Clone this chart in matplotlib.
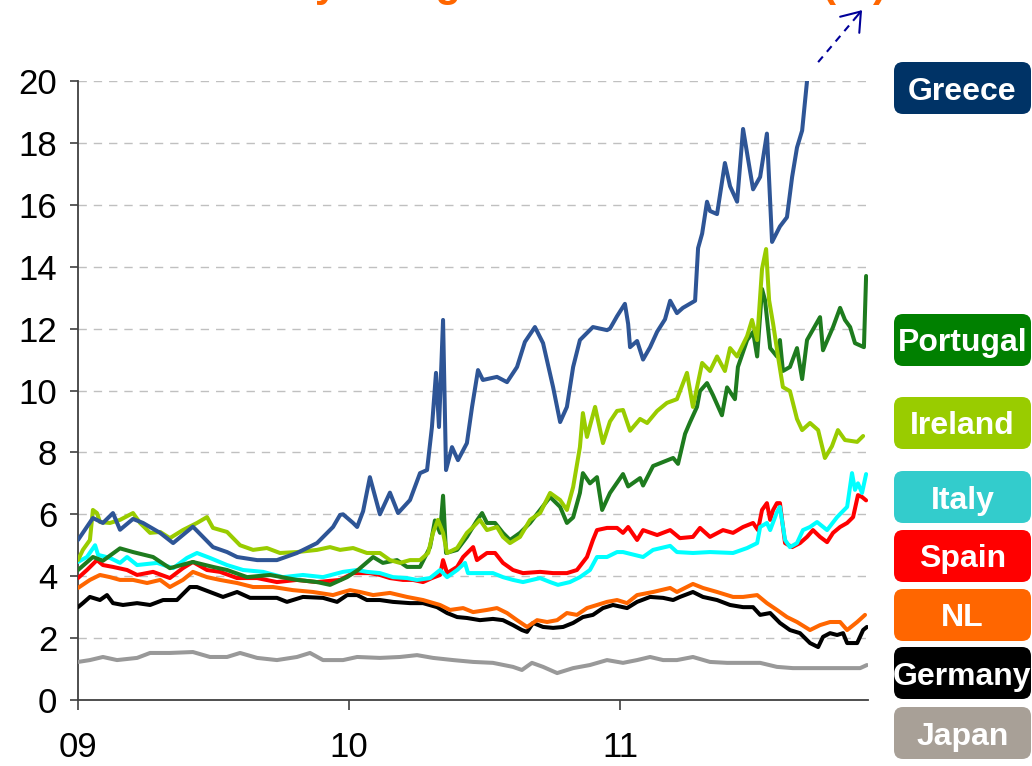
import matplotlib
matplotlib.use("Agg")
import matplotlib.pyplot as plt
import matplotlib.transforms as mtransforms
from matplotlib.patches import FancyBboxPatch

plt.rcParams['font.family'] = ['Liberation Sans', 'DejaVu Sans']

# ---------------- data (decimal years, % yield) ----------------
greece_t = [2009.000, 2009.055, 2009.092, 2009.129, 2009.155, 2009.203, 2009.240, 2009.303, 2009.351,
            2009.424, 2009.461, 2009.498, 2009.550, 2009.587, 2009.661, 2009.734, 2009.808, 2009.882,
            2009.941, 2009.967, 2009.978, 2010.015, 2010.030, 2010.052, 2010.077, 2010.114, 2010.151,
            2010.181, 2010.225, 2010.262, 2010.288, 2010.306, 2010.321, 2010.332, 2010.347, 2010.358,
            2010.380, 2010.402, 2010.435, 2010.454, 2010.476, 2010.494, 2010.546, 2010.583, 2010.620,
            2010.649, 2010.686, 2010.716, 2010.753, 2010.779, 2010.804, 2010.827, 2010.852, 2010.900,
            2010.952, 2010.963, 2010.989, 2011.018, 2011.030, 2011.037, 2011.063, 2011.085, 2011.111,
            2011.137, 2011.166, 2011.185, 2011.210, 2011.232, 2011.277, 2011.288, 2011.303, 2011.321,
            2011.332, 2011.358, 2011.387, 2011.406, 2011.432, 2011.454, 2011.472, 2011.491, 2011.517,
            2011.542, 2011.561, 2011.590, 2011.616, 2011.635, 2011.653, 2011.672, 2011.690, 2011.750,
            2011.908]
greece_v = [5.17, 5.88, 5.72, 6.04, 5.50, 5.85, 5.72, 5.40, 5.07,
            5.60, 5.27, 4.94, 4.78, 4.62, 4.52, 4.52, 4.75, 5.07,
            5.59, 5.98, 6.00, 5.72, 5.59, 6.10, 7.20, 6.00, 6.70,
            6.04, 6.46, 7.33, 7.43, 8.82, 10.57, 8.82, 12.28, 7.43,
            8.17, 7.75, 8.30, 9.47, 10.66, 10.34, 10.44, 10.27, 10.76,
            11.57, 12.05, 11.53, 10.11, 8.98, 9.47, 10.76, 11.63, 12.05,
            11.95, 12.00, 12.40, 12.80, 12.15, 11.40, 11.60, 11.00, 11.40,
            11.90, 12.30, 12.90, 12.50, 12.67, 12.90, 14.60, 15.07, 16.10,
            15.80, 15.70, 17.35, 16.60, 16.10, 18.45, 17.50, 16.50, 16.90,
            18.30, 14.80, 15.30, 15.60, 16.90, 17.85, 18.40, 20.00, 23.00,
            28.00]

portugal_t = [2009.000, 2009.055, 2009.092, 2009.155, 2009.203, 2009.277, 2009.339, 2009.424, 2009.498,
              2009.550, 2009.624, 2009.708, 2009.808, 2009.882, 2009.930, 2009.993, 2010.033, 2010.089,
              2010.125, 2010.177, 2010.214, 2010.262, 2010.299, 2010.317, 2010.336, 2010.347, 2010.358,
              2010.399, 2010.435, 2010.472, 2010.491, 2010.509, 2010.539, 2010.568, 2010.594, 2010.631,
              2010.668, 2010.705, 2010.742, 2010.779, 2010.804, 2010.827, 2010.852, 2010.863, 2010.889,
              2010.915, 2010.934, 2010.963, 2011.011, 2011.030, 2011.074, 2011.085, 2011.122, 2011.159,
              2011.196, 2011.214, 2011.240, 2011.258, 2011.284, 2011.295, 2011.321, 2011.343, 2011.376,
              2011.395, 2011.424, 2011.435, 2011.469, 2011.491, 2011.506, 2011.524, 2011.535, 2011.554,
              2011.579, 2011.590, 2011.601, 2011.627, 2011.653, 2011.672, 2011.690, 2011.738, 2011.749,
              2011.786, 2011.812, 2011.830, 2011.849, 2011.867, 2011.900, 2011.908]
portugal_v = [4.20, 4.62, 4.50, 4.90, 4.78, 4.62, 4.26, 4.46, 4.30,
              4.20, 3.97, 4.04, 3.88, 3.81, 3.72, 3.97, 4.20, 4.62,
              4.43, 4.52, 4.30, 4.30, 4.94, 5.80, 5.40, 6.60, 4.75,
              4.85, 5.27, 5.80, 6.04, 5.72, 5.72, 5.40, 5.17, 5.40,
              5.72, 6.14, 6.56, 6.24, 5.72, 5.90, 6.69, 7.33, 7.00,
              7.20, 6.14, 6.69, 7.30, 6.90, 7.17, 6.93, 7.56, 7.69,
              7.82, 7.63, 8.60, 8.97, 9.47, 9.98, 10.24, 9.85, 9.20,
              10.10, 9.72, 10.76, 11.63, 11.89, 11.10, 13.28, 12.92, 11.37,
              11.10, 11.63, 10.63, 10.76, 11.37, 10.37, 11.63, 12.37, 11.30,
              12.05, 12.67, 12.28, 12.05, 11.53, 11.40, 13.70]

ireland_t = [2009.000, 2009.018, 2009.044, 2009.055, 2009.070, 2009.081, 2009.118, 2009.155, 2009.203,
             2009.229, 2009.266, 2009.303, 2009.339, 2009.387, 2009.439, 2009.476, 2009.498, 2009.550,
             2009.598, 2009.646, 2009.697, 2009.745, 2009.808, 2009.882, 2009.930, 2009.967, 2010.015,
             2010.066, 2010.114, 2010.151, 2010.188, 2010.225, 2010.262, 2010.292, 2010.310, 2010.328,
             2010.347, 2010.362, 2010.399, 2010.435, 2010.458, 2010.483, 2010.509, 2010.546, 2010.568,
             2010.594, 2010.631, 2010.668, 2010.705, 2010.742, 2010.779, 2010.804, 2010.827, 2010.852,
             2010.863, 2010.878, 2010.908, 2010.937, 2010.963, 2010.989, 2011.011, 2011.037, 2011.074,
             2011.100, 2011.137, 2011.173, 2011.210, 2011.247, 2011.269, 2011.303, 2011.332, 2011.358,
             2011.387, 2011.406, 2011.432, 2011.469, 2011.487, 2011.506, 2011.524, 2011.539, 2011.550,
             2011.565, 2011.583, 2011.601, 2011.627, 2011.653, 2011.672, 2011.701, 2011.731, 2011.756,
             2011.782, 2011.804, 2011.830, 2011.875, 2011.897]
ireland_v = [4.52, 4.85, 5.17, 6.14, 6.04, 5.75, 5.72, 5.82, 6.04,
             5.72, 5.40, 5.43, 5.23, 5.49, 5.72, 5.91, 5.56, 5.43,
             5.00, 4.85, 4.91, 4.75, 4.78, 4.85, 4.94, 4.85, 4.91,
             4.75, 4.75, 4.52, 4.43, 4.52, 4.52, 4.75, 5.40, 5.82,
             5.40, 4.75, 4.91, 5.40, 5.59, 5.82, 5.49, 5.59, 5.27,
             5.07, 5.27, 5.82, 6.04, 6.69, 6.46, 6.14, 6.88, 8.17,
             9.27, 8.50, 9.47, 8.30, 9.00, 9.34, 9.37, 8.70, 9.08,
             8.95, 9.34, 9.60, 9.72, 10.57, 9.47, 10.89, 10.63, 11.10,
             10.63, 11.37, 11.10, 11.76, 12.28, 11.63, 13.93, 14.57, 12.92,
             12.15, 11.10, 10.11, 9.98, 9.08, 8.72, 8.95, 8.72, 7.82,
             8.20, 8.72, 8.40, 8.34, 8.53]

italy_t = [2009.000, 2009.033, 2009.063, 2009.074, 2009.118, 2009.155, 2009.181, 2009.218, 2009.292,
           2009.351, 2009.402, 2009.439, 2009.487, 2009.550, 2009.609, 2009.683, 2009.756, 2009.830,
           2009.904, 2009.978, 2010.030, 2010.066, 2010.114, 2010.162, 2010.214, 2010.251, 2010.299,
           2010.336, 2010.362, 2010.399, 2010.428, 2010.439, 2010.483, 2010.531, 2010.568, 2010.605,
           2010.642, 2010.705, 2010.742, 2010.771, 2010.815, 2010.852, 2010.889, 2010.915, 2010.952,
           2010.989, 2011.011, 2011.085, 2011.122, 2011.185, 2011.210, 2011.269, 2011.332, 2011.417,
           2011.469, 2011.506, 2011.517, 2011.542, 2011.554, 2011.579, 2011.590, 2011.609, 2011.627,
           2011.653, 2011.675, 2011.701, 2011.727, 2011.764, 2011.801, 2011.838, 2011.856, 2011.867,
           2011.878, 2011.893, 2011.908]
italy_v = [4.46, 4.62, 5.00, 4.69, 4.59, 4.43, 4.62, 4.36, 4.43,
           4.26, 4.59, 4.75, 4.59, 4.36, 4.20, 4.14, 3.97, 4.04,
           3.97, 4.14, 4.20, 4.14, 4.10, 3.97, 3.94, 3.88, 3.94,
           4.20, 3.97, 4.20, 4.43, 4.10, 4.10, 4.10, 3.97, 3.88,
           3.81, 3.94, 3.81, 3.72, 3.81, 3.97, 4.20, 4.62, 4.62,
           4.78, 4.78, 4.62, 4.85, 4.98, 4.78, 4.75, 4.78, 4.75,
           4.91, 5.07, 5.59, 5.72, 5.49, 6.07, 6.24, 5.17, 4.94,
           5.07, 5.49, 5.59, 5.75, 5.49, 5.91, 6.24, 7.33, 6.79,
           7.00, 6.69, 7.30]

spain_t = [2009.000, 2009.033, 2009.070, 2009.092, 2009.129, 2009.181, 2009.218, 2009.277, 2009.339,
           2009.387, 2009.424, 2009.476, 2009.524, 2009.587, 2009.661, 2009.734, 2009.808, 2009.882,
           2009.967, 2010.015, 2010.077, 2010.114, 2010.151, 2010.199, 2010.236, 2010.273, 2010.306,
           2010.336, 2010.347, 2010.362, 2010.399, 2010.421, 2010.458, 2010.472, 2010.509, 2010.539,
           2010.568, 2010.605, 2010.642, 2010.705, 2010.753, 2010.804, 2010.841, 2010.878, 2010.900,
           2010.915, 2010.952, 2010.989, 2011.011, 2011.030, 2011.063, 2011.085, 2011.137, 2011.185,
           2011.221, 2011.269, 2011.295, 2011.332, 2011.380, 2011.417, 2011.454, 2011.491, 2011.509,
           2011.524, 2011.542, 2011.554, 2011.565, 2011.579, 2011.590, 2011.609, 2011.635, 2011.664,
           2011.690, 2011.712, 2011.738, 2011.764, 2011.786, 2011.812, 2011.838, 2011.860, 2011.878,
           2011.893, 2011.908]
spain_v = [3.94, 4.20, 4.52, 4.36, 4.30, 4.20, 4.04, 4.14, 3.94,
           4.26, 4.46, 4.20, 4.14, 3.94, 3.94, 3.81, 3.88, 3.81,
           3.88, 4.10, 4.10, 4.04, 3.94, 3.88, 3.88, 3.81, 3.94,
           4.04, 4.52, 4.10, 4.30, 4.62, 4.94, 4.52, 4.75, 4.75,
           4.43, 4.20, 4.10, 4.14, 4.10, 4.10, 4.20, 4.62, 5.17,
           5.49, 5.56, 5.56, 5.40, 5.59, 5.17, 5.49, 5.33, 5.49,
           5.23, 5.27, 5.56, 5.27, 5.49, 5.40, 5.59, 5.72, 5.49,
           6.14, 6.36, 5.82, 6.14, 6.36, 6.36, 5.07, 4.94, 5.07,
           5.27, 5.49, 5.27, 5.10, 5.40, 5.59, 5.72, 5.91, 6.62,
           6.56, 6.45]

nl_t = [2009.000, 2009.044, 2009.081, 2009.118, 2009.155, 2009.203, 2009.255, 2009.303, 2009.339,
        2009.387, 2009.424, 2009.476, 2009.524, 2009.587, 2009.646, 2009.720, 2009.793, 2009.867,
        2009.941, 2009.967, 2010.004, 2010.041, 2010.089, 2010.151, 2010.214, 2010.273, 2010.336,
        2010.373, 2010.421, 2010.458, 2010.509, 2010.546, 2010.583, 2010.620, 2010.657, 2010.694,
        2010.731, 2010.768, 2010.804, 2010.841, 2010.878, 2010.915, 2010.952, 2010.989, 2011.026,
        2011.063, 2011.122, 2011.185, 2011.210, 2011.269, 2011.306, 2011.358, 2011.417, 2011.454,
        2011.506, 2011.542, 2011.579, 2011.616, 2011.653, 2011.701, 2011.738, 2011.775, 2011.812,
        2011.838, 2011.875, 2011.904]
nl_v = [3.62, 3.88, 4.04, 3.97, 3.88, 3.88, 3.78, 3.88, 3.65,
        3.88, 4.14, 3.97, 3.88, 3.78, 3.65, 3.65, 3.55, 3.49,
        3.39, 3.46, 3.55, 3.49, 3.39, 3.46, 3.33, 3.23, 3.07,
        2.91, 2.97, 2.84, 2.91, 2.97, 2.81, 2.58, 2.36, 2.58,
        2.52, 2.58, 2.81, 2.75, 2.97, 3.07, 3.17, 3.23, 3.13,
        3.39, 3.49, 3.62, 3.49, 3.75, 3.62, 3.49, 3.33, 3.33,
        3.39, 3.13, 2.91, 2.68, 2.52, 2.26, 2.42, 2.52, 2.52,
        2.26, 2.52, 2.75]

germany_t = [2009.000, 2009.018, 2009.044, 2009.081, 2009.107, 2009.129, 2009.166, 2009.218, 2009.266,
             2009.314, 2009.365, 2009.413, 2009.439, 2009.487, 2009.535, 2009.587, 2009.635, 2009.683,
             2009.734, 2009.771, 2009.830, 2009.904, 2009.956, 2009.993, 2010.030, 2010.066, 2010.114,
             2010.162, 2010.225, 2010.273, 2010.325, 2010.362, 2010.399, 2010.435, 2010.483, 2010.531,
             2010.568, 2010.605, 2010.638, 2010.657, 2010.679, 2010.716, 2010.753, 2010.790, 2010.827,
             2010.863, 2010.900, 2010.937, 2010.974, 2011.026, 2011.063, 2011.111, 2011.159, 2011.196,
             2011.221, 2011.269, 2011.306, 2011.358, 2011.406, 2011.454, 2011.491, 2011.517, 2011.554,
             2011.590, 2011.627, 2011.664, 2011.701, 2011.731, 2011.749, 2011.775, 2011.801, 2011.823,
             2011.838, 2011.875, 2011.897, 2011.911]
germany_v = [3.00, 3.13, 3.33, 3.23, 3.39, 3.13, 3.07, 3.13, 3.07,
             3.23, 3.23, 3.65, 3.65, 3.49, 3.33, 3.49, 3.30, 3.30,
             3.30, 3.17, 3.33, 3.30, 3.17, 3.39, 3.39, 3.23, 3.23,
             3.17, 3.13, 3.13, 3.00, 2.81, 2.68, 2.65, 2.58, 2.62,
             2.58, 2.42, 2.26, 2.20, 2.49, 2.36, 2.33, 2.36, 2.49,
             2.68, 2.75, 2.97, 3.07, 2.97, 3.17, 3.33, 3.30, 3.23,
             3.33, 3.49, 3.33, 3.23, 3.07, 3.00, 3.00, 2.75, 2.81,
             2.49, 2.26, 2.16, 1.84, 1.71, 2.04, 2.16, 2.10, 2.16,
             1.84, 1.84, 2.26, 2.36]

japan_t = [2009.000, 2009.044, 2009.092, 2009.144, 2009.218, 2009.266, 2009.339, 2009.424, 2009.487,
           2009.550, 2009.598, 2009.661, 2009.734, 2009.808, 2009.856, 2009.904, 2009.978, 2010.030,
           2010.114, 2010.188, 2010.251, 2010.310, 2010.384, 2010.458, 2010.531, 2010.605, 2010.638,
           2010.675, 2010.716, 2010.768, 2010.827, 2010.889, 2010.952, 2011.011, 2011.063, 2011.111,
           2011.159, 2011.210, 2011.269, 2011.332, 2011.395, 2011.454, 2011.517, 2011.579, 2011.638,
           2011.701, 2011.764, 2011.823, 2011.886, 2011.911]
japan_v = [1.23, 1.29, 1.39, 1.29, 1.36, 1.52, 1.52, 1.55, 1.39,
           1.39, 1.52, 1.36, 1.29, 1.39, 1.52, 1.29, 1.29, 1.39,
           1.36, 1.39, 1.45, 1.36, 1.29, 1.23, 1.20, 1.07, 0.97,
           1.20, 1.07, 0.87, 1.03, 1.13, 1.29, 1.20, 1.29, 1.39,
           1.29, 1.29, 1.39, 1.23, 1.20, 1.20, 1.20, 1.07, 1.03,
           1.03, 1.03, 1.03, 1.03, 1.13]

countries = ["Greece", "Portugal", "Ireland", "Italy", "Spain", "NL", "Germany", "Japan"]
line_colors = ["#2E5596", "#1E7B1E", "#99CC00", "#00FFFF", "#FF0000", "#FF6600", "#000000", "#999999"]
box_colors = ["#003366", "#008000", "#99CC00", "#33CCCC", "#FF0000", "#FF6600", "#000000", "#A8A097"]
series_t = [greece_t, portugal_t, ireland_t, italy_t, spain_t, nl_t, germany_t, japan_t]
series_v = [greece_v, portugal_v, ireland_v, italy_v, spain_v, nl_v, germany_v, japan_v]
zorders = [10, 8, 9, 7, 6, 5, 4, 3]

year_ticks = [2009, 2010, 2011]
year_labels = ["09", "10", "11"]
y_ticks = list(range(0, 21, 2))

title_text = "10-Year yield: government bonds (%)"

# ---------------- figure ----------------
W, H = 1032, 766
fig = plt.figure(figsize=(W / 100, H / 100), dpi=100)
ax = fig.add_axes([78 / W, 1 - 700 / H, (868 - 78) / W, (700 - 81) / H])

for t, v, c, z in zip(series_t, series_v, line_colors, zorders):
    ax.plot(t, v, color=c, lw=2.9, zorder=z, solid_joinstyle='round', solid_capstyle='round')

ax.set_xlim(2009.0, 2011.915)
ax.set_ylim(0, 20)
ax.set_yticks(y_ticks)
ax.set_xticks(year_ticks)
ax.set_xticklabels(year_labels)

for y in y_ticks[1:]:
    ax.axhline(y, color='#C0C0C0', lw=1.0, dashes=(6, 5), zorder=1)

for s in ['top', 'right']:
    ax.spines[s].set_visible(False)
for s in ['left', 'bottom']:
    ax.spines[s].set_color('#404040')
    ax.spines[s].set_linewidth(1.3)

ax.tick_params(axis='y', direction='out', length=6, width=1.2, color='#404040',
               labelsize=25, pad=9, labelcolor='black')
ax.tick_params(axis='x', direction='out', length=7.5, width=1.2, color='#404040',
               labelsize=25, pad=15, labelcolor='black')

# dashed arrow showing Greece continues above the chart
ax.plot([2011.731, 2011.869], [20.61, 22.04], color='#000099', lw=1.5, dashes=(3.5, 3),
        clip_on=False, zorder=11)
ax.annotate('', xy=(2011.893, 22.29), xytext=(2011.869, 22.04),
            arrowprops=dict(arrowstyle='->,head_length=1.25,head_width=0.9', color='#000099',
                            lw=1.5, shrinkA=0, shrinkB=0, mutation_scale=10),
            annotation_clip=False, zorder=11)

# country label boxes on the right
ident = mtransforms.IdentityTransform()
box_centers = [88, 340, 423, 497, 556, 615, 673, 733]
bx0, bx1, bh = 894, 1031, 52
for name, col, cy in zip(countries, box_colors, box_centers):
    ydisp = H - cy
    patch = FancyBboxPatch((bx0, ydisp - bh / 2), bx1 - bx0, bh,
                           boxstyle='round,pad=0,rounding_size=9',
                           transform=ident, facecolor=col, edgecolor='none')
    fig.patches.append(patch)
    fig.text((bx0 + bx1) / 2 / W, ydisp / H, name, ha='center', va='center_baseline',
             color='white', fontsize=23, fontweight='bold')

# cropped title (only its lowest part shows, as in the original)
fig.text(0.505, 1 + 4 / H, title_text, ha='center', va='baseline', fontsize=30,
         fontweight='bold', color='#FF6600')

fig.savefig('out.png', dpi=100)
